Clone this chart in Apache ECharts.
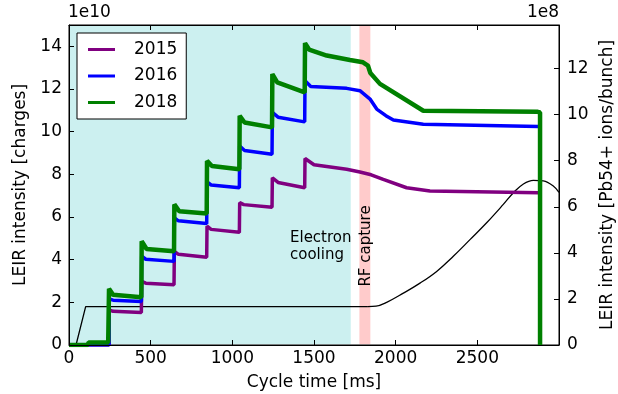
<!DOCTYPE html>
<html>
<head>
<meta charset="utf-8">
<script src="https://cdn.jsdelivr.net/npm/echarts@6/dist/echarts.min.js"></script>
<style>html,body{margin:0;padding:0;background:#fff}#c{width:618px;height:394px}</style>
</head>
<body>
<div id="c"></div>
<script>
// x in ms, y in units of 1e10 charges
const xTicks = [0, 500, 1000, 1500, 2000, 2500];
const leftTicks = [0, 2, 4, 6, 8, 10, 12, 14];
const rightTicks = [0, 2, 4, 6, 8, 10, 12];
const legendNames = ['2015', '2016', '2018'];

const s2015 = [[0,0],[245,0],[245,1.65],[270,1.58],[443,1.52],[445,2.98],[470,2.9],[643,2.82],
  [645,4.39],[670,4.25],[843,4.11],[845,5.57],[870,5.42],[1043,5.28],[1045,6.67],[1070,6.58],[1243,6.46],
  [1245,7.84],[1280,7.62],[1443,7.37],[1445,8.74],[1500,8.45],[1700,8.24],[1781,8.11],[1850,7.98],
  [1924,7.76],[2067,7.37],[2210,7.22],[2873,7.14]];

const s2016 = [[0,0],[245,0],[245,2.16],[270,2.1],[443,2.04],[445,4.16],[470,4.02],[643,3.92],
  [645,5.96],[670,5.82],[843,5.69],[845,7.64],[870,7.5],[1043,7.37],[1045,9.33],[1075,9.12],[1243,8.94],
  [1245,10.9],[1280,10.68],[1443,10.46],[1445,12.39],[1480,12.12],[1700,12.03],[1781,11.92],[1843,11.53],
  [1884,11.06],[1940,10.75],[1986,10.55],[2169,10.35],[2873,10.24]];

const s2018 = [[0,0],[115,0],[120,0.12],[240,0.12],[245,2.63],[270,2.35],[443,2.24],
  [445,4.86],[475,4.5],[643,4.39],[645,6.59],[675,6.27],[843,6.16],[845,8.63],[875,8.39],[1043,8.24],
  [1045,10.74],[1075,10.43],[1243,10.2],[1245,12.7],[1275,12.31],[1443,11.84],
  [1445,14.15],[1470,13.85],[1578,13.57],[1720,13.36],[1800,13.25],[1830,13.1],[1845,12.75],
  [1904,12.24],[2169,10.98],[2870,10.93],[2884,10.9],[2884,0]];

// magnetic cycle (arbitrary scale, drawn on left axis)
const cycleRamp = [[0,0],[43,0],[102,1.8],[1830,1.8]];
const cycleBend = [[1830,1.8],[1880,1.82],[1945,2.0],[2047,2.43],[2149,2.9],[2251,3.45],[2353,4.16],
  [2455,4.94],[2557,5.73],[2659,6.59],[2721,7.14],[2782,7.55],[2843,7.72],[2904,7.69],[2965,7.45],[3000,7.15]];

const coolingSpan = [0, 1725];
const rfSpan = [1778, 1845];

const FONT = 'DejaVu Sans';
const chart = echarts.init(document.getElementById('c'));

function axisBase() {
  return {
    z: 10,
    axisLine: { show: true, onZero: false, lineStyle: { color: '#000', width: 1 } },
    axisTick: { show: true, inside: true, length: 5, lineStyle: { color: '#000' } },
    splitLine: { show: false }
  };
}

chart.setOption({
  animation: false,
  backgroundColor: '#fff',
  textStyle: { fontFamily: FONT },
  grid: { left: 69, right: 59, top: 25, bottom: 49, containLabel: false, outerBoundsMode: 'none',
    show: true, z: 5, borderColor: '#000', borderWidth: 1, backgroundColor: 'transparent' },
  legend: {
    data: legendNames,
    orient: 'vertical',
    left: 77, top: 33,
    backgroundColor: '#fff',
    borderColor: '#000', borderWidth: 1, borderRadius: 0,
    padding: [8, 9, 8, 11],
    itemWidth: 27, itemHeight: 3, itemGap: 9.5,
    icon: 'rect',
    z: 20,
    textStyle: { fontFamily: FONT, fontSize: 17, color: '#000', padding: [0, 0, 0, 14] }
  },
  xAxis: [Object.assign(axisBase(), {
    type: 'value', min: 0, max: 3000, interval: 500, position: 'bottom',
    name: 'Cycle time [ms]', nameLocation: 'middle', nameGap: 29,
    nameTextStyle: { fontFamily: FONT, fontSize: 17, color: '#000' },
    axisLabel: { fontFamily: FONT, fontSize: 17, color: '#000', margin: 5,
      formatter: v => xTicks.indexOf(v) >= 0 ? String(v) : '' }
  }), Object.assign(axisBase(), {
    type: 'value', min: 0, max: 3000, interval: 500, position: 'top',
    axisLabel: { show: false }
  })],
  yAxis: [Object.assign(axisBase(), {
    type: 'value', min: 0, max: 15, interval: 2, position: 'left',
    name: 'LEIR intensity [charges]', nameLocation: 'middle', nameGap: 33,
    nameTextStyle: { fontFamily: FONT, fontSize: 17, color: '#000' },
    axisLabel: { fontFamily: FONT, fontSize: 17, color: '#000', margin: 7,
      formatter: v => leftTicks.indexOf(v) >= 0 ? String(v) : '' }
  }), Object.assign(axisBase(), {
    type: 'value', min: 0, max: 15 / 1.08, interval: 2, position: 'right',
    name: 'LEIR intensity [Pb54+ ions/bunch]', nameLocation: 'middle', nameGap: 33,
    nameRotate: 90,
    nameTextStyle: { fontFamily: FONT, fontSize: 17, color: '#000' },
    axisLabel: { fontFamily: FONT, fontSize: 17, color: '#000', margin: 8,
      formatter: v => rightTicks.indexOf(v) >= 0 ? String(v) : '' }
  })],
  graphic: [
    { type: 'text', left: 68, top: 4, z: 100, style: { text: '1e10', font: '17px "DejaVu Sans"', fill: '#000' } },
    { type: 'text', right: 59, top: 4, z: 100, style: { text: '1e8', font: '17px "DejaVu Sans"', fill: '#000' } },
    { type: 'text', left: 290, top: 230, z: 100, style: { text: 'Electron\ncooling', font: '15px "DejaVu Sans"', fill: '#000', lineHeight: 17 } },
    { type: 'text', x: 366, y: 246, rotation: Math.PI / 2, z: 100,
      style: { text: 'RF capture', font: '15px "DejaVu Sans"', fill: '#000', align: 'center', verticalAlign: 'middle' } }
  ],
  series: [
    {
      name: 'shade', type: 'line', data: [], silent: true, z: 1,
      markArea: {
        silent: true, z: 1,
        data: [
          [{ xAxis: coolingSpan[0], yAxis: 0.03, itemStyle: { color: '#ccf0f0', borderWidth: 0 } }, { xAxis: coolingSpan[1], yAxis: 14.97 }],
          [{ xAxis: rfSpan[0], yAxis: 0.03, itemStyle: { color: '#ffcbcb', borderWidth: 0 } }, { xAxis: rfSpan[1], yAxis: 14.97 }]
        ]
      }
    },
    { name: 'cycle1', type: 'line', data: cycleRamp, symbol: 'none', lineStyle: { color: '#000', width: 1.3 }, z: 6 },
    { name: 'cycle2', type: 'line', data: cycleBend, symbol: 'none', smooth: 0.4, lineStyle: { color: '#000', width: 1.3 }, z: 6 },
    { name: '2015', type: 'line', data: s2015, symbol: 'none', color: '#800080', lineStyle: { color: '#800080', width: 3.5 }, z: 7 },
    { name: '2016', type: 'line', data: s2016, symbol: 'none', color: '#0000ff', lineStyle: { color: '#0000ff', width: 3.5 }, z: 8 },
    { name: '2018', type: 'line', data: s2018, symbol: 'none', color: '#008000', lineStyle: { color: '#008000', width: 4.5 }, z: 9 }
  ]
});
</script>
</body>
</html>
